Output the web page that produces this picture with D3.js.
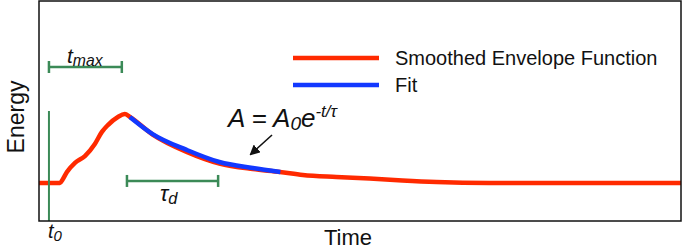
<!DOCTYPE html>
<html>
<head>
<meta charset="utf-8">
<script src="https://cdn.jsdelivr.net/npm/d3@7"></script>
<style>
  body { margin: 0; background: #fff; }
  text { font-family: "Liberation Sans", Arial, Helvetica, sans-serif; }
</style>
</head>
<body>
<svg id="chart"></svg>
<script>
// Data (time and energy in arbitrary units)
const envTime   = [0, 3.27, 3.73, 4.35, 5.6, 7.15, 8.7, 9.8, 10.73, 12.29, 13.37, 14.15, 17.7, 23.0, 28.1, 33.3, 37.5, 41.1, 46.3, 51.5, 56.6, 61.9, 70.1, 100];
const envEnergy = [0.173, 0.173, 0.191, 0.223, 0.264, 0.295, 0.350, 0.405, 0.436, 0.473, 0.486, 0.473, 0.393, 0.314, 0.261, 0.236, 0.223, 0.209, 0.200, 0.193, 0.184, 0.177, 0.173, 0.173];

const fitTime   = [14.15, 17.7, 23.0, 28.1, 33.3, 37.6];
const fitEnergy = [0.473, 0.395, 0.323, 0.268, 0.241, 0.223];

// annotation positions (time units)
const t0 = 1.55;
const tMaxEnd = 12.9;
const tauStart = 13.7, tauEnd = 27.9;

const legendItems = ['Smoothed Envelope Function', 'Fit'];
const legendColors = ['#ff2a00', '#1238ff'];

// Setup
const width = 685,
      height = 250;

const svg = d3.select('#chart')
  .attr('width', width)
  .attr('height', height);

const x = d3.scaleLinear().domain([0, 100]).range([39, 681]);
const y = d3.scaleLinear().domain([0, 1]).range([221, 1]);

const green = '#3b8a57';

// Curves
const line = d3.line()
  .x(d => x(d[0]))
  .y(d => y(d[1]))
  .curve(d3.curveMonotoneX);

svg.append('path')
  .datum(d3.zip(envTime, envEnergy))
  .attr('d', line)
  .attr('fill', 'none')
  .attr('stroke', legendColors[0])
  .attr('stroke-width', 4.5)
  .attr('stroke-linejoin', 'round');

svg.append('path')
  .datum(d3.zip(fitTime, fitEnergy))
  .attr('d', line)
  .attr('fill', 'none')
  .attr('stroke', legendColors[1])
  .attr('stroke-width', 4.5);

// t0 marker
svg.append('line')
  .attr('x1', x(t0)).attr('x2', x(t0))
  .attr('y1', y(0.5)).attr('y2', y(0))
  .attr('stroke', green).attr('stroke-width', 2);

// brackets
function bracket(t1, t2, e) {
  const g = svg.append('g').attr('stroke', green).attr('stroke-width', 2.5);
  g.append('line').attr('x1', x(t1)).attr('x2', x(t2)).attr('y1', y(e)).attr('y2', y(e));
  [t1, t2].forEach(t => {
    g.append('line').attr('x1', x(t)).attr('x2', x(t))
      .attr('y1', y(e) - 6).attr('y2', y(e) + 6);
  });
}
bracket(t0, tMaxEnd, 0.70);
bracket(tauStart, tauEnd, 0.182);

// labels with subscripts
function subLabel(xp, yp, main, sub, size) {
  const t = svg.append('text')
    .attr('x', xp).attr('y', yp)
    .attr('font-size', size)
    .attr('font-style', 'italic')
    .attr('fill', '#111');
  t.append('tspan').text(main);
  t.append('tspan').attr('font-size', size * 0.75).attr('dy', 3).text(sub);
  return t;
}
subLabel(67, 63, 't', 'max', 21);
subLabel(160, 201, 'τ', 'd', 22);
subLabel(48, 238, 't', '0', 20);

// equation
const eq = svg.append('text')
  .attr('x', 228).attr('y', 127)
  .attr('font-size', 26)
  .attr('font-style', 'italic')
  .attr('fill', '#111');
eq.append('tspan').text('A = A');
eq.append('tspan').attr('font-size', 19).attr('dy', 3).text('0');
eq.append('tspan').attr('dy', -3).text('e');
eq.append('tspan').attr('font-size', 17).attr('dy', -10).text('-t/τ');

// arrow
svg.append('defs').append('marker')
  .attr('id', 'arrow')
  .attr('viewBox', '0 0 10 10')
  .attr('refX', 8).attr('refY', 5)
  .attr('markerWidth', 6.5).attr('markerHeight', 6.5)
  .attr('orient', 'auto-start-reverse')
  .append('path')
  .attr('d', 'M0,0 L10,5 L0,10 z')
  .attr('fill', '#111');

svg.append('line')
  .attr('x1', 272).attr('y1', 135)
  .attr('x2', 251).attr('y2', 154)
  .attr('stroke', '#111').attr('stroke-width', 1.6)
  .attr('marker-end', 'url(#arrow)');

// legend
const legend = svg.append('g');
legendItems.forEach((name, i) => {
  const ly = 58 + i * 27;
  legend.append('line')
    .attr('x1', 293).attr('x2', 379)
    .attr('y1', ly).attr('y2', ly)
    .attr('stroke', legendColors[i]).attr('stroke-width', 4.5);
  legend.append('text')
    .attr('x', 395).attr('y', ly + 6.5)
    .attr('font-size', 20)
    .attr('fill', '#111')
    .text(name);
});

// frame
svg.append('rect')
  .attr('x', x(0)).attr('y', y(1))
  .attr('width', x(100) - x(0))
  .attr('height', y(0) - y(1))
  .attr('fill', 'none')
  .attr('stroke', '#111')
  .attr('stroke-width', 1.5);

// axis titles
svg.append('text')
  .attr('x', 348).attr('y', 245)
  .attr('text-anchor', 'middle')
  .attr('font-size', 22)
  .attr('fill', '#111')
  .text('Time');

svg.append('text')
  .attr('transform', 'translate(24,117) rotate(-90)')
  .attr('text-anchor', 'middle')
  .attr('font-size', 23)
  .attr('fill', '#111')
  .text('Energy');
</script>
</body>
</html>
